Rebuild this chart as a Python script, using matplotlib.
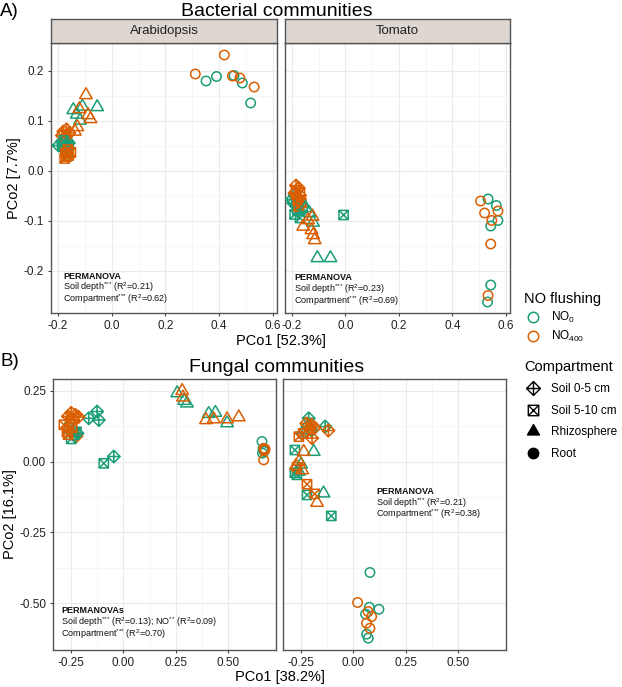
import numpy as np
import matplotlib.pyplot as plt
from matplotlib.path import Path
from matplotlib.lines import Line2D

plt.rcParams['font.family'] = ['Liberation Sans', 'DejaVu Sans']
plt.rcParams['mathtext.fontset'] = 'custom'
plt.rcParams['mathtext.rm'] = 'Liberation Sans'
plt.rcParams['mathtext.it'] = 'Liberation Sans:italic'
plt.rcParams['mathtext.bf'] = 'Liberation Sans:bold'

GREEN = '#1b9e77'
ORANGE = '#d95f02'

# ---- data (PCo1, PCo2) ----
# Bacterial communities, Arabidopsis
ba_soil05_no0 = [(-0.198, 0.050), (-0.185, 0.058), (-0.170, 0.062), (-0.160, 0.055), (-0.178, 0.045)]
ba_soil05_no400 = [(-0.180, 0.078), (-0.168, 0.082), (-0.158, 0.075), (-0.185, 0.070), (-0.170, 0.068)]
ba_soil510_no0 = [(-0.172, 0.042), (-0.160, 0.050), (-0.178, 0.060), (-0.165, 0.035), (-0.185, 0.052)]
ba_soil510_no400 = [(-0.172, 0.035), (-0.160, 0.030), (-0.175, 0.024), (-0.163, 0.042), (-0.152, 0.036), (-0.168, 0.028)]
ba_rhizo_no0 = [(-0.143, 0.121), (-0.109, 0.128), (-0.054, 0.127), (-0.130, 0.112), (-0.118, 0.100)]
ba_rhizo_no400 = [(-0.096, 0.151), (-0.121, 0.123), (-0.088, 0.111), (-0.079, 0.103), (-0.128, 0.087), (-0.137, 0.078)]
ba_root_no0 = [(0.351, 0.179), (0.390, 0.188), (0.455, 0.190), (0.486, 0.175), (0.517, 0.135)]
ba_root_no400 = [(0.311, 0.193), (0.419, 0.231), (0.449, 0.189), (0.477, 0.185), (0.530, 0.167)]

# Bacterial communities, Tomato
bt_soil05_no0 = [(-0.200, -0.058), (-0.195, -0.065), (-0.185, -0.070), (-0.175, -0.062), (-0.190, -0.050)]
bt_soil05_no400 = [(-0.185, -0.030), (-0.175, -0.035), (-0.190, -0.045), (-0.170, -0.050), (-0.180, -0.055)]
bt_soil510_no0 = [(-0.190, -0.088), (-0.170, -0.095), (-0.180, -0.080), (-0.160, -0.075), (-0.007, -0.089)]
bt_soil510_no400 = [(-0.185, -0.040), (-0.170, -0.045), (-0.178, -0.060), (-0.165, -0.065), (-0.175, -0.072)]
bt_rhizo_no0 = [(-0.149, -0.075), (-0.121, -0.104), (-0.105, -0.175), (-0.056, -0.175), (-0.135, -0.085)]
bt_rhizo_no400 = [(-0.123, -0.092), (-0.140, -0.099), (-0.158, -0.112), (-0.127, -0.119), (-0.121, -0.129), (-0.115, -0.139)]
bt_root_no0 = [(0.533, -0.057), (0.564, -0.070), (0.570, -0.100), (0.543, -0.111), (0.543, -0.229), (0.531, -0.263)]
bt_root_no400 = [(0.505, -0.061), (0.570, -0.081), (0.520, -0.085), (0.547, -0.100), (0.543, -0.147), (0.533, -0.250)]

# Fungal communities, Arabidopsis
fa_soil05_no0 = [(-0.126, 0.177), (-0.118, 0.147), (-0.166, 0.153), (-0.046, 0.018), (-0.220, 0.100)]
fa_soil05_no400 = [(-0.265, 0.160), (-0.250, 0.172), (-0.230, 0.165), (-0.215, 0.158), (-0.240, 0.148), (-0.225, 0.090)]
fa_soil510_no0 = [(-0.094, -0.006), (-0.250, 0.080), (-0.235, 0.095), (-0.225, 0.105), (-0.260, 0.120)]
fa_soil510_no400 = [(-0.285, 0.130), (-0.270, 0.105), (-0.255, 0.140), (-0.245, 0.120), (-0.265, 0.095)]
fa_rhizo_no0 = [(0.257, 0.242), (0.304, 0.206), (0.290, 0.215), (0.408, 0.169), (0.440, 0.173), (0.496, 0.136)]
fa_rhizo_no400 = [(0.281, 0.250), (0.285, 0.227), (0.395, 0.147), (0.432, 0.150), (0.496, 0.150), (0.552, 0.157)]
fa_root_no0 = [(0.663, 0.071), (0.673, 0.036), (0.665, 0.030), (0.668, 0.045)]
fa_root_no400 = [(0.671, 0.047), (0.675, 0.040), (0.671, 0.006), (0.678, 0.044)]

# Fungal communities, Tomato
ft_soil05_no0 = [(-0.214, 0.153), (-0.135, 0.124), (-0.245, 0.100), (-0.220, 0.125), (-0.200, 0.110)]
ft_soil05_no400 = [(-0.200, 0.130), (-0.210, 0.115), (-0.120, 0.110), (-0.198, 0.083), (-0.225, 0.135), (-0.185, 0.120)]
ft_soil510_no0 = [(-0.280, 0.041), (-0.280, -0.040), (-0.270, -0.047), (-0.222, -0.118), (-0.106, -0.192)]
ft_soil510_no400 = [(-0.261, 0.088), (-0.240, 0.100), (-0.222, -0.080), (-0.185, -0.114), (-0.270, -0.020)]
ft_rhizo_no0 = [(-0.190, 0.035), (-0.143, -0.112), (-0.261, -0.035), (-0.250, -0.010)]
ft_rhizo_no400 = [(-0.238, 0.035), (-0.174, -0.145), (-0.260, 0.000), (-0.245, -0.030), (-0.275, -0.015)]
ft_root_no0 = [(0.079, -0.392), (0.076, -0.515), (0.122, -0.522), (0.058, -0.539), (0.063, -0.610), (0.071, -0.624)]
ft_root_no400 = [(0.020, -0.498), (0.087, -0.548), (0.063, -0.571), (0.079, -0.589), (0.070, -0.530)]

compartments = ['Soil 0-5 cm', 'Soil 5-10 cm', 'Rhizosphere', 'Root']
treatments = ['NO$_0$', 'NO$_{400}$']

# ---- marker shapes (ggplot shapes 9, 7, 2, 1) ----
M, L, C = Path.MOVETO, Path.LINETO, Path.CLOSEPOLY
diamond_plus = Path([(0, 1), (1, 0), (0, -1), (-1, 0), (0, 1), (0, 1), (0, -1), (-1, 0), (1, 0)],
                    [M, L, L, L, C, M, L, M, L])
square_cross = Path([(-1, -1), (1, -1), (1, 1), (-1, 1), (-1, -1), (-1, -1), (1, 1), (-1, 1), (1, -1)],
                    [M, L, L, L, C, M, L, M, L])
triangle = Path([(0, 1.155), (-1, -0.577), (1, -0.577), (0, 1.155)], [M, L, L, C])
shapes = {'Soil 0-5 cm': (diamond_plus, 82), 'Soil 5-10 cm': (square_cross, 44),
          'Rhizosphere': (triangle, 108), 'Root': ('o', 46)}

STARS3 = '$^{{*}{*}{*}}$'
STARS2 = '$^{{*}{*}}$'

W, H = 622, 687
fig = plt.figure(figsize=(W / 100, H / 100), dpi=100)


def px_rect(l, t, r, b):
    return [l / W, 1 - b / H, (r - l) / W, (b - t) / H]


def draw_panel(rect, groups, xlim, ylim, xticks, yticks, ylabels, stats, stats_pos):
    ax = fig.add_axes(rect)
    ax.set_xlim(xlim)
    ax.set_ylim(ylim)
    ax.set_xticks(xticks)
    ax.set_yticks(yticks)
    ax.set_xticks((np.array(xticks[:-1]) + np.array(xticks[1:])) / 2, minor=True)
    ax.set_yticks((np.array(yticks[:-1]) + np.array(yticks[1:])) / 2, minor=True)
    ax.grid(which='major', color='#ebebeb', lw=0.8)
    ax.grid(which='minor', color='#f5f5f5', lw=0.6)
    ax.set_axisbelow(True)
    ax.tick_params(which='minor', length=0)
    ax.tick_params(which='major', length=2.5, width=0.8, color='#444444', labelsize=8.5,
                   labelcolor='#222222', pad=2.5)
    if not ylabels:
        ax.tick_params(axis='y', left=False, labelleft=False)
    for s in ax.spines.values():
        s.set_color('#555555')
        s.set_linewidth(1.0)
    for comp, pts_no0, pts_no400 in groups:
        marker, size = shapes[comp]
        for pts, col in ((pts_no0, GREEN), (pts_no400, ORANGE)):
            xy = np.array(pts)
            ax.scatter(xy[:, 0], xy[:, 1], marker=marker, s=size, facecolors='none',
                       edgecolors=col, linewidths=1.1, zorder=3)
    # stats block, positioned in pixels from the panel's top-left
    x0, y0, dy = stats_pos
    l, b, w, h = rect
    fx = x0 / (w * W)
    for i, line in enumerate(stats):
        fy = 1 - (y0 + i * dy) / (h * H)
        ax.text(fx, fy, line, transform=ax.transAxes, fontsize=6.5, va='baseline',
                fontweight='bold' if i == 0 else 'normal', color='#111111')
    return ax


def strip(rect, label):
    sx = fig.add_axes(rect)
    sx.set_facecolor('#ddd6d1')
    sx.set_xticks([])
    sx.set_yticks([])
    for s in sx.spines.values():
        s.set_color('#555555')
        s.set_linewidth(1.0)
    sx.text(0.5, 0.5, label, ha='center', va='center', fontsize=9.5, color='#222222')


# Bacterial
bac_xlim = (-0.226, 0.615)
bac_ylim = (-0.285, 0.255)
bac_xt = [-0.2, 0.0, 0.2, 0.4, 0.6]
bac_yt = [-0.2, -0.1, 0.0, 0.1, 0.2]

ax1 = draw_panel(px_rect(51, 43, 277, 313),
                 [('Soil 0-5 cm', ba_soil05_no0, ba_soil05_no400),
                  ('Soil 5-10 cm', ba_soil510_no0, ba_soil510_no400),
                  ('Rhizosphere', ba_rhizo_no0, ba_rhizo_no400),
                  ('Root', ba_root_no0, ba_root_no400)],
                 bac_xlim, bac_ylim, bac_xt, bac_yt, True,
                 ['PERMANOVA', 'Soil depth' + STARS3 + ' (R$^2$=0.21)', 'Compartment' + STARS3 + ' (R$^2$=0.62)'],
                 (12, 236, 11.5))
ax1.set_yticklabels(['-0.2', '-0.1', '0.0', '0.1', '0.2'])
ax1.set_xticklabels(['-0.2', '0.0', '0.2', '0.4', '0.6'])
strip(px_rect(51, 19, 277, 43), 'Arabidopsis')

ax2 = draw_panel(px_rect(285, 43, 510, 313),
                 [('Soil 0-5 cm', bt_soil05_no0, bt_soil05_no400),
                  ('Soil 5-10 cm', bt_soil510_no0, bt_soil510_no400),
                  ('Rhizosphere', bt_rhizo_no0, bt_rhizo_no400),
                  ('Root', bt_root_no0, bt_root_no400)],
                 bac_xlim, bac_ylim, bac_xt, bac_yt, False,
                 ['PERMANOVA', 'Soil depth' + STARS3 + ' (R$^2$=0.23)', 'Compartment' + STARS3 + ' (R$^2$=0.69)'],
                 (9, 237, 12))
ax2.set_xticklabels(['-0.2', '0.0', '0.2', '0.4', '0.6'])
strip(px_rect(285, 19, 510, 43), 'Tomato')

# Fungal
fun_xlim = (-0.337, 0.73)
fun_ylim = (-0.666, 0.292)
fun_xt = [-0.25, 0.0, 0.25, 0.5]
fun_yt = [-0.5, -0.25, 0.0, 0.25]

ax3 = draw_panel(px_rect(53, 379, 276, 650),
                 [('Soil 0-5 cm', fa_soil05_no0, fa_soil05_no400),
                  ('Soil 5-10 cm', fa_soil510_no0, fa_soil510_no400),
                  ('Rhizosphere', fa_rhizo_no0, fa_rhizo_no400),
                  ('Root', fa_root_no0, fa_root_no400)],
                 fun_xlim, fun_ylim, fun_xt, fun_yt, True,
                 ['PERMANOVAs', 'Soil depth' + STARS3 + ' (R$^2$=0.13); NO' + STARS2 + ' (R$^2$=0.09)',
                  'Compartment' + STARS3 + ' (R$^2$=0.70)'],
                 (8, 234, 12))
ax3.set_xticklabels(['-0.25', '0.00', '0.25', '0.50'])
ax3.set_yticklabels(['-0.50', '-0.25', '0.00', '0.25'])

ax4 = draw_panel(px_rect(283, 379, 506, 650),
                 [('Soil 0-5 cm', ft_soil05_no0, ft_soil05_no400),
                  ('Soil 5-10 cm', ft_soil510_no0, ft_soil510_no400),
                  ('Rhizosphere', ft_rhizo_no0, ft_rhizo_no400),
                  ('Root', ft_root_no0, ft_root_no400)],
                 fun_xlim, fun_ylim, fun_xt, fun_yt, False,
                 ['PERMANOVA', 'Soil depth' + STARS3 + ' (R$^2$=0.21)', 'Compartment' + STARS3 + ' (R$^2$=0.38)'],
                 (93, 115, 11.5))
ax4.set_xticklabels(['-0.25', '0.00', '0.25', '0.50'])

# titles and axis labels
fig.text(0 / W, 1 - 11 / H, 'A)', fontsize=13.5, va='center', ha='left')
fig.text(277 / W, 1 - 11 / H, 'Bacterial communities', fontsize=14, va='center', ha='center')
fig.text(0 / W, 1 - 362 / H, 'B)', fontsize=13.5, va='center', ha='left')
fig.text(277 / W, 1 - 368 / H, 'Fungal communities', fontsize=14, va='center', ha='center')
fig.text(281 / W, 1 - 341 / H, 'PCo1 [52.3%]', fontsize=10.5, va='center', ha='center')
fig.text(280 / W, 1 - 677 / H, 'PCo1 [38.2%]', fontsize=10.5, va='center', ha='center')
fig.text(14 / W, 1 - 178 / H, 'PCo2 [7.7%]', fontsize=10.5, va='center', ha='center', rotation=90)
fig.text(10 / W, 1 - 514 / H, 'PCo2 [16.1%]', fontsize=10.5, va='center', ha='center', rotation=90)

# legends
no_handles = [Line2D([], [], ls='none', marker='o', ms=7.5, mfc='none', mec=c, mew=1.1, label=t)
              for c, t in zip([GREEN, ORANGE], treatments)]
leg1 = fig.legend(handles=no_handles, title='NO flushing', loc='upper left',
                  bbox_to_anchor=(524 / W, 1 - 292 / H), frameon=False, fontsize=8.5,
                  title_fontsize=10.5, handlelength=1.5, handletextpad=0.8, labelspacing=0.35,
                  borderpad=0, borderaxespad=0, alignment='left')
comp_handles = [
    Line2D([], [], ls='none', marker=diamond_plus, ms=10, mfc='none', mec='black', mew=1.0, label=compartments[0]),
    Line2D([], [], ls='none', marker=square_cross, ms=7.5, mfc='none', mec='black', mew=1.0, label=compartments[1]),
    Line2D([], [], ls='none', marker=triangle, ms=10, mfc='black', mec='black', mew=1.0, label=compartments[2]),
    Line2D([], [], ls='none', marker='o', ms=7.5, mfc='black', mec='black', mew=1.0, label=compartments[3]),
]
leg2 = fig.legend(handles=comp_handles, title='Compartment', loc='upper left',
                  bbox_to_anchor=(524 / W, 1 - 360 / H), frameon=False, fontsize=8.5,
                  title_fontsize=10.5, handlelength=1.5, handletextpad=0.8, labelspacing=0.8,
                  borderpad=0, borderaxespad=0, alignment='left')

fig.savefig('out.png', dpi=100)
